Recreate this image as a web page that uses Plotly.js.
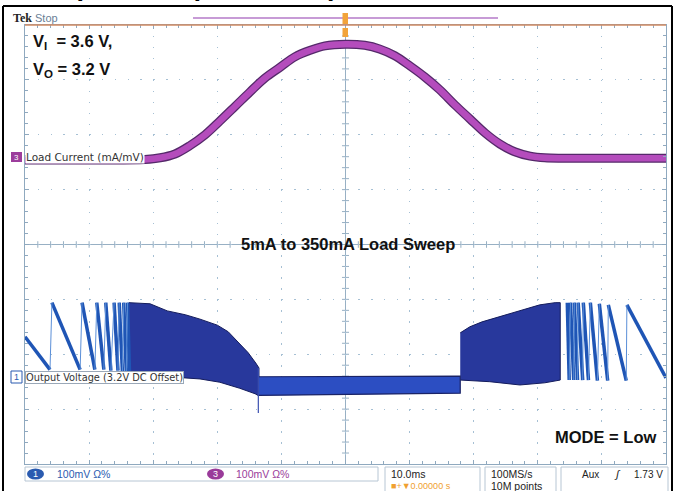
<!DOCTYPE html>
<html><head><meta charset="utf-8">
<script src="https://cdn.plot.ly/plotly-3.0.1.min.js"></script>
<style>html,body{margin:0;padding:0;background:#fff;overflow:hidden}#chart{width:676px;height:491px}</style>
</head><body><div id="chart"></div>
<script>
// ---- Data (time in ms, amplitude in screen divisions) ----
const loadT = [-50, -38.3, -31.3, -28.9, -26.6, -24.3, -21.9, -19.6, -17.2, -14.9, -12.6, -10.2, -7.9, -5.5, -3.2, 0, 3.0, 5.4, 7.7, 10.1, 12.4, 14.7, 17.1, 19.4, 21.8, 24.1, 26.4, 28.8, 31.1, 39.7, 50];
const loadV = [1.54, 1.54, 1.55, 1.58, 1.65, 1.80, 2.00, 2.25, 2.52, 2.78, 3.03, 3.23, 3.42, 3.54, 3.62, 3.65, 3.63, 3.56, 3.44, 3.25, 3.05, 2.82, 2.54, 2.29, 2.03, 1.83, 1.69, 1.61, 1.58, 1.57, 1.57];

const sawLStart = [-50.0, -45.8, -41.1, -38.8, -37.4, -36.1, -35.3, -34.6, -34.0];
const sawLEnd   = [-46.1, -41.4, -39.1, -37.7, -36.6, -35.5, -34.8, -34.2, -33.7];
const sawLTop   = [-1.68, -1.06, -1.06, -1.06, -1.06, -1.06, -1.06, -1.06, -1.06];
const sawLBot   = [-2.28, -2.28, -2.28, -2.28, -2.30, -2.30, -2.32, -2.32, -2.32];

const sawRStart = [34.6, 35.1, 35.7, 36.3, 37.1, 38.2, 39.6, 41.0, 43.9];
const sawREnd   = [34.9, 35.6, 36.2, 37.0, 37.9, 39.3, 40.9, 43.8, 50.0];
const sawRTop   = [-1.06, -1.06, -1.06, -1.06, -1.06, -1.06, -1.08, -1.10, -1.10];
const sawRBot   = [-2.47, -2.47, -2.47, -2.47, -2.47, -2.48, -2.48, -2.48, -2.43];

const bandLTopT = [-33.8, -30.5, -27.8, -25.0, -22.7, -20.0, -18.3, -16.8, -15.2, -14.0, -13.5];
const bandLTopV = [-1.06, -1.08, -1.21, -1.28, -1.36, -1.47, -1.59, -1.77, -1.97, -2.16, -2.25];
const bandLBotT = [-33.8, -27.4, -22.7, -19.6, -16.5, -14.1, -13.5];
const bandLBotV = [-2.36, -2.41, -2.45, -2.51, -2.62, -2.72, -2.76];

const midT   = [-13.5, 0, 17.9];
const midTop = [-2.41, -2.41, -2.40];
const midBot = [-2.75, -2.73, -2.71];

const bandRTopT = [17.9, 19.4, 21.3, 23.3, 25.7, 28.0, 30.3, 32.7, 33.5];
const bandRTopV = [-1.61, -1.50, -1.41, -1.34, -1.27, -1.18, -1.10, -1.06, -1.06];
const bandRBotT = [17.9, 22.5, 27.2, 31.1, 33.5];
const bandRBotV = [-2.47, -2.50, -2.56, -2.52, -2.47];

const spikeT = [-13.6, -13.6];
const spikeV = [-2.25, -3.07];

// ---- helpers ----
const L=25,R=666,T=25,B=464;
function X(px){return (px-L)/(R-L);}
function Y(py){return (B-py)/(B-T);}
function poly(tt,tv,bt,bv){
  return {x: tt.concat(bt.slice().reverse()), y: tv.concat(bv.slice().reverse())};
}
function ramps(st,en,top,bot){
  const x=[],y=[];
  for(let i=0;i<st.length;i++){x.push(st[i],en[i],null);y.push(top[i],bot[i],null);}
  return {x,y};
}
function jumps(st,en,top,bot){
  const x=[],y=[];
  for(let i=0;i<st.length-1;i++){x.push(en[i],st[i+1],null);y.push(bot[i],top[i+1],null);}
  return {x,y};
}

const pL = poly(bandLTopT,bandLTopV,bandLBotT,bandLBotV);
const pR = poly(bandRTopT,bandRTopV,bandRBotT,bandRBotV);
const pM = poly(midT,midTop,midT,midBot);
const rL = ramps(sawLStart,sawLEnd,sawLTop,sawLBot);
const rR = ramps(sawRStart,sawREnd,sawRTop,sawRBot);
const jL = jumps(sawLStart,sawLEnd,sawLTop,sawLBot);
const jR = jumps(sawRStart,sawREnd,sawRTop,sawRBot);

const traces = [
  {x:pL.x,y:pL.y,type:'scatter',mode:'lines',fill:'toself',fillcolor:'#28389c',line:{color:'#141c5c',width:1},hoverinfo:'skip'},
  {x:pR.x,y:pR.y,type:'scatter',mode:'lines',fill:'toself',fillcolor:'#28389c',line:{color:'#141c5c',width:1},hoverinfo:'skip'},
  {x:pM.x,y:pM.y,type:'scatter',mode:'lines',fill:'toself',fillcolor:'#2c4ec2',line:{color:'#1a2366',width:1.2},hoverinfo:'skip'},
  {x:rL.x.concat(rR.x),y:rL.y.concat(rR.y),type:'scatter',mode:'lines',line:{color:'#1f55b5',width:3.5},connectgaps:false,hoverinfo:'skip'},
  {x:jL.x.concat(jR.x),y:jL.y.concat(jR.y),type:'scatter',mode:'lines',line:{color:'#5b8fd8',width:1},connectgaps:false,hoverinfo:'skip'},
  {x:spikeT,y:spikeV,type:'scatter',mode:'lines',line:{color:'#3a4fb0',width:1.2},hoverinfo:'skip'},
  {x:loadT,y:loadV,type:'scatter',mode:'lines',line:{color:'#55296a',width:9,shape:'spline'},hoverinfo:'skip'},
  {x:loadT,y:loadV,type:'scatter',mode:'lines',line:{color:'#b44cbc',width:6.5,shape:'spline'},hoverinfo:'skip'}
];

// ---- shapes ----
const shapes = [];
const axc = '#98b0c4';
shapes.push({type:'line',xref:'x',yref:'y',x0:0,x1:0,y0:-4,y1:4,line:{color:axc,width:1},layer:'below'});
shapes.push({type:'line',xref:'x',yref:'y',x0:-50,x1:50,y0:0,y1:0,line:{color:axc,width:1},layer:'below'});
for(let t=-48;t<=48;t+=2){shapes.push({type:'line',xref:'x',yref:'y',x0:t,x1:t,y0:-0.06,y1:0.06,line:{color:axc,width:1},layer:'below'});}
for(let v=-3.8;v<=3.81;v+=0.2){shapes.push({type:'line',xref:'x',yref:'y',x0:-0.55,x1:0.55,y0:v,y1:v,line:{color:axc,width:1},layer:'below'});}
shapes.push({type:'line',xref:'paper',yref:'paper',x0:0,x1:1,y0:1,y1:1,line:{color:'#cf8a62',width:1.5}});
shapes.push({type:'line',xref:'paper',yref:'paper',x0:X(3),x1:X(3),y0:Y(6),y1:Y(495),line:{color:'#000',width:2}});
shapes.push({type:'line',xref:'paper',yref:'paper',x0:X(3),x1:X(672),y0:Y(6),y1:Y(6),line:{color:'#000',width:2}});
shapes.push({type:'line',xref:'paper',yref:'paper',x0:X(672),x1:X(672),y0:Y(6),y1:Y(495),line:{color:'#000',width:2}});
shapes.push({type:'line',xref:'paper',yref:'paper',x0:X(193),x1:X(498),y0:Y(18),y1:Y(18),line:{color:'#c79bd6',width:2}});
shapes.push({type:'rect',xref:'paper',yref:'paper',x0:X(342.5),x1:X(348),y0:Y(13),y1:Y(24),fillcolor:'#f2a33a',line:{width:0}});
shapes.push({type:'rect',xref:'paper',yref:'paper',x0:X(342.5),x1:X(348),y0:Y(28),y1:Y(37),fillcolor:'#f2a33a',line:{width:0}});
const bc='#b7c6d4';
shapes.push({type:'rect',xref:'paper',yref:'paper',x0:X(25),x1:X(378),y0:Y(467),y1:Y(481),line:{color:bc,width:1}});
shapes.push({type:'rect',xref:'paper',yref:'paper',x0:X(385),x1:X(480),y0:Y(467),y1:Y(492),line:{color:bc,width:1}});
shapes.push({type:'rect',xref:'paper',yref:'paper',x0:X(485),x1:X(556),y0:Y(467),y1:Y(492),line:{color:bc,width:1}});
shapes.push({type:'rect',xref:'paper',yref:'paper',x0:X(561),x1:X(668),y0:Y(467),y1:Y(492),line:{color:bc,width:1}});
shapes.push({type:'circle',xref:'paper',yref:'paper',x0:X(27),x1:X(44),y0:Y(468.5),y1:Y(479.5),fillcolor:'#2a5bb0',line:{width:0}});
shapes.push({type:'circle',xref:'paper',yref:'paper',x0:X(207),x1:X(224),y0:Y(468.5),y1:Y(479.5),fillcolor:'#9a3b9a',line:{width:0}});
shapes.push({type:'rect',xref:'paper',yref:'paper',x0:X(11),x1:X(22),y0:Y(152),y1:Y(162),fillcolor:'#9c3d9c',line:{width:0}});
shapes.push({type:'rect',xref:'paper',yref:'paper',x0:X(11),x1:X(22),y0:Y(371),y1:Y(383),fillcolor:'#fff',line:{color:'#2a5bb0',width:1}});

// ---- annotations ----
const F='Liberation Sans, Arial, sans-serif';
const ann = [];
function A(text,px,py,opt){ann.push(Object.assign({text:text,xref:'paper',yref:'paper',x:X(px),y:Y(py),showarrow:false,xanchor:'left',yanchor:'middle',font:{family:F,size:10,color:'#222'}},opt||{}));}
A('Typical Operation (continued)',340,-14,{xanchor:'right',font:{family:F,size:27,color:'#000',weight:'bold'}});
A('<b>Tek</b>',11,18,{font:{family:'Liberation Serif, serif',size:12,color:'#222'}});
A('Stop',33,18,{font:{family:F,size:11,color:'#6a7e96'}});
A('<b>V<sub>I</sub>  = 3.6 V,</b>',31,42,{font:{family:F,size:16.5,color:'#111'}});
A('<b>V<sub>O</sub> = 3.2 V</b>',31,70,{font:{family:F,size:16.5,color:'#111'}});
A('<b>5mA to 350mA Load Sweep</b>',348,244,{xanchor:'center',font:{family:F,size:16.5,color:'#111'}});
A('<b>MODE = Low</b>',658,437,{xanchor:'right',font:{family:F,size:16.5,color:'#111'}});
A('Load Current (mA/mV)',25,157,{font:{family:'DejaVu Sans, sans-serif',size:10.5,color:'#333'},bgcolor:'#fff',borderpad:0});
A('Output Voltage (3.2V DC Offset)',25,377,{font:{family:'DejaVu Sans, sans-serif',size:9.8,color:'#333'},bgcolor:'#fff',bordercolor:'#9aa8b8',borderwidth:1,borderpad:0});
A('3',16.5,157,{xanchor:'center',font:{family:F,size:8,color:'#fff'}});
A('1',16.5,377,{xanchor:'center',font:{family:F,size:9,color:'#2a5bb0'}});
A('1',35.5,474,{xanchor:'center',font:{family:F,size:9,color:'#fff'}});
A('100mV Ω%',55,474,{font:{family:F,size:10.5,color:'#2a5bb0'}});
A('3',215.5,474,{xanchor:'center',font:{family:F,size:9,color:'#fff'}});
A('100mV Ω%',234,474,{font:{family:F,size:10.5,color:'#9a3b9a'}});
A('10.0ms',389,474,{font:{family:F,size:10.5,color:'#222'}});
A('■+▼0.00000 s',389,486,{font:{family:F,size:9,color:'#f0a030'}});
A('100MS/s',489,474,{font:{family:F,size:10.5,color:'#222'}});
A('10M points',489,486,{font:{family:F,size:10.5,color:'#222'}});
A('Aux',580,474,{font:{family:F,size:10,color:'#222'}});
A('<i>ʃ</i>',612,474,{font:{family:F,size:11,color:'#222'}});
A('1.73 V',665,474,{xanchor:'right',font:{family:F,size:10,color:'#222'}});

const gc='#a6c0d4', lc='#8fa9bf';
const layout = {
  width:676,height:491,
  margin:{l:L,r:676-R,t:T,b:491-B,pad:0},
  paper_bgcolor:'#fff',plot_bgcolor:'#fff',
  showlegend:false,
  xaxis:{range:[-50,50],tick0:-50,dtick:10,showgrid:true,gridcolor:gc,gridwidth:1,griddash:'1.5px,9.475px',
    ticks:'inside',ticklen:4,tickcolor:lc,showticklabels:false,showline:true,linecolor:lc,linewidth:1,mirror:'ticks',zeroline:false,fixedrange:true,
    minor:{dtick:2,ticks:'inside',ticklen:3,tickcolor:lc,showgrid:false}},
  yaxis:{range:[-4,4],tick0:-4,dtick:1,showgrid:true,gridcolor:gc,gridwidth:1,griddash:'1.5px,11.32px',
    ticks:'inside',ticklen:4,tickcolor:lc,showticklabels:false,showline:true,linecolor:lc,linewidth:1,mirror:'ticks',zeroline:false,fixedrange:true,
    minor:{dtick:0.2,ticks:'inside',ticklen:3,tickcolor:lc,showgrid:false}},
  shapes:shapes,
  annotations:ann
};
Plotly.newPlot('chart',traces,layout,{staticPlot:true,displayModeBar:false});
</script></body></html>
